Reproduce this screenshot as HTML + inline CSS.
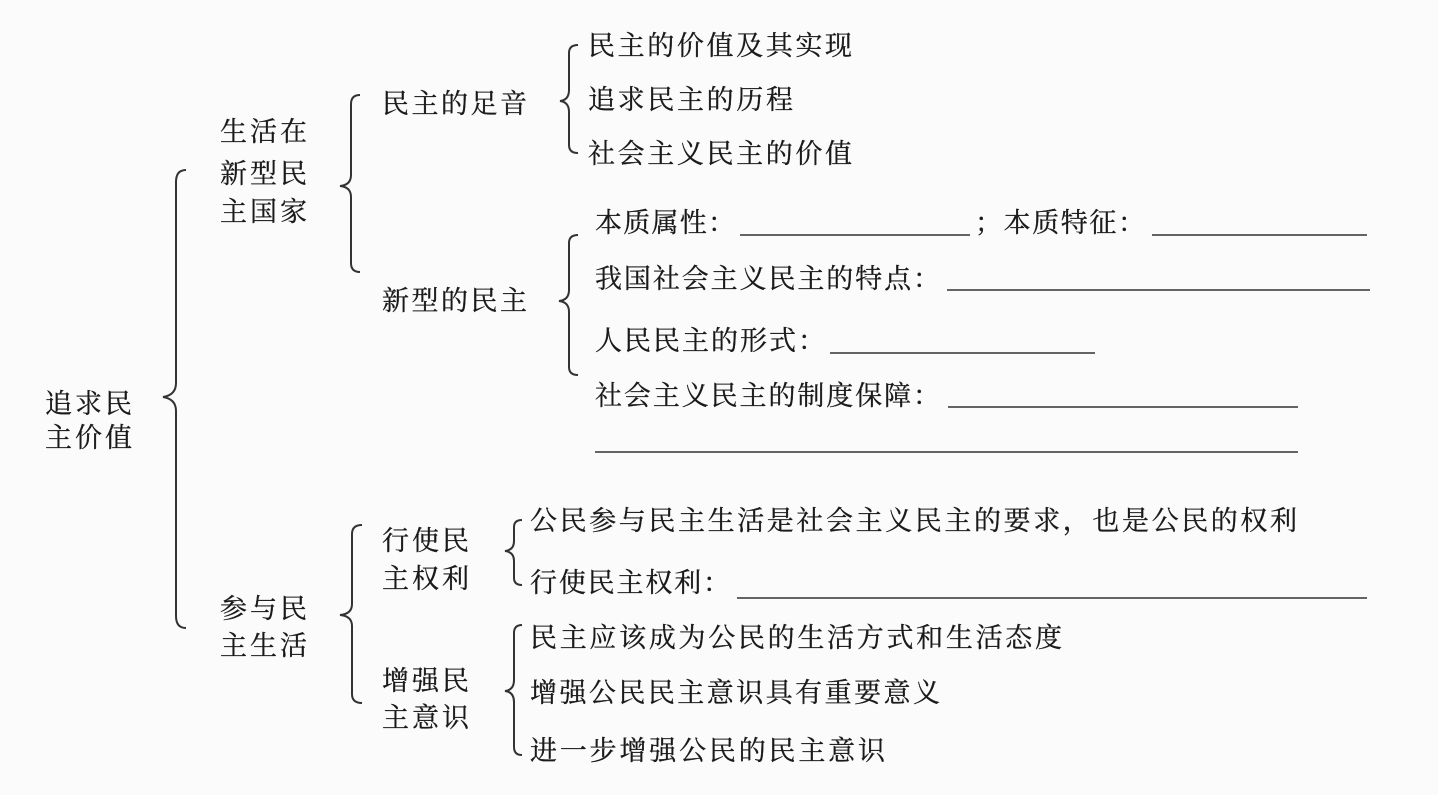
<!DOCTYPE html>
<html><head><meta charset="utf-8"><style>
html,body{margin:0;padding:0;background:#fbfbfb;}
svg{display:block}
text{font-family:"Noto Serif CJK SC","Liberation Serif",serif;font-size:27px;fill:#1a1a1a;stroke:#1a1a1a;stroke-width:0.3px;}
</style></head><body>
<svg width="1438" height="795" viewBox="0 0 1438 795">
<g fill="none" stroke="#333" stroke-width="2">
<path d="M186,170 Q176,170 176,182 L176,383 Q176,395 163,397 Q176,399 176,411 L176,616 Q176,628 186,628"/>
<path d="M360,95 Q351,95 351,104 L351,175 Q351,185 340,186 Q351,187 351,197 L351,263 Q351,272 360,272"/>
<path d="M578,45 Q569,45 569,53 L569,90 Q569,100 560,101 Q569,102 569,112 L569,145 Q569,153 578,153"/>
<path d="M578,235 Q569,235 569,243 L569,290 Q569,300 559,301 Q569,302 569,312 L569,367 Q569,375 578,375"/>
<path d="M362,525 Q352,525 352,534 L352,604 Q352,614 340,615 Q352,616 352,626 L352,694 Q352,703 362,703"/>
<path d="M522,520 Q514,520 514,527 L514,541 Q514,550 505,551 Q514,552 514,561 L514,578 Q514,585 522,585"/>
<path d="M522,625 Q514,625 514,633 L514,680 Q514,690 505,691 Q514,692 514,702 L514,747 Q514,755 522,755"/>
</g>
<g stroke="#333" stroke-width="1.5">
<line x1="740" y1="235" x2="970" y2="235"/>
<line x1="1152" y1="235" x2="1367" y2="235"/>
<line x1="947" y1="290" x2="1370" y2="290"/>
<line x1="830" y1="353" x2="1095" y2="353"/>
<line x1="948" y1="407" x2="1298" y2="407"/>
<line x1="595" y1="452" x2="1298" y2="452"/>
<line x1="737" y1="598" x2="1367" y2="598"/>
</g>
<text x="45" y="413" textLength="87">追求民</text>
<text x="45" y="447" textLength="87">主价值</text>
<text x="220" y="141" textLength="87">生活在</text>
<text x="220" y="183" textLength="87">新型民</text>
<text x="220" y="221" textLength="87">主国家</text>
<text x="382" y="113" textLength="145">民主的足音</text>
<text x="588" y="55" textLength="264">民主的价值及其实现</text>
<text x="588" y="109" textLength="205">追求民主的历程</text>
<text x="588" y="163" textLength="264">社会主义民主的价值</text>
<text x="382" y="310" textLength="145">新型的民主</text>
<text x="595" y="232" textLength="140">本质属性：</text>
<text x="975" y="232" textLength="170">；本质特征：</text>
<text x="595" y="288" textLength="345">我国社会主义民主的特点：</text>
<text x="595" y="350" textLength="230">人民民主的形式：</text>
<text x="595" y="405" textLength="345">社会主义民主的制度保障：</text>
<text x="220" y="618" textLength="87">参与民</text>
<text x="220" y="655" textLength="87">主生活</text>
<text x="382" y="550" textLength="87">行使民</text>
<text x="382" y="588" textLength="87">主权利</text>
<text x="530" y="530" textLength="767">公民参与民主生活是社会主义民主的要求，也是公民的权利</text>
<text x="530" y="592" textLength="200">行使民主权利：</text>
<text x="382" y="690" textLength="87">增强民</text>
<text x="382" y="727" textLength="87">主意识</text>
<text x="530" y="647" textLength="532">民主应该成为公民的生活方式和生活态度</text>
<text x="530" y="702" textLength="410">增强公民民主意识具有重要意义</text>
<text x="530" y="760" textLength="355">进一步增强公民的民主意识</text>
</svg>
</body></html>
